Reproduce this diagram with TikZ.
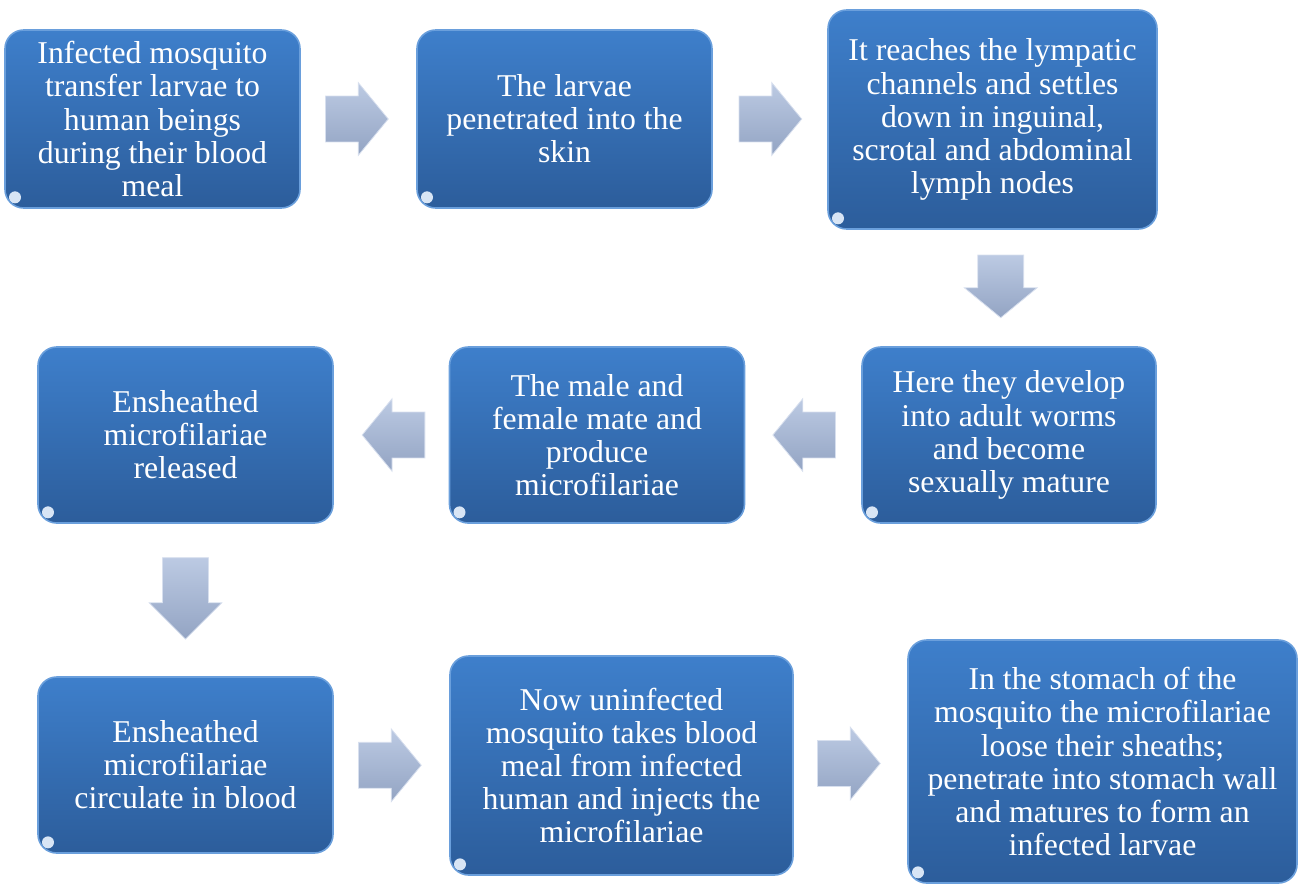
\documentclass[tikz,border=0pt]{standalone}
\usepackage{fontspec}
\setmainfont{Liberation Serif}
\usetikzlibrary{shapes.arrows,calc}
\definecolor{boxtop}{HTML}{3E7FCB}
\definecolor{boxbottom}{HTML}{2C5D9B}
\definecolor{boxrim}{HTML}{6A9FDC}
\definecolor{arrtop}{HTML}{BCCAE3}
\definecolor{arrbottom}{HTML}{93A4C3}
\begin{document}
\begin{tikzpicture}[
    x = 0.75pt, y = -0.75pt,
    stage/.style = {draw=boxrim, line width=1.2pt, rounded corners=14pt,
      top color=boxtop, bottom color=boxbottom, text=white, align=center,
      font=\fontsize{23.8}{24.8}\selectfont, inner sep=0pt,
      minimum width=221.25pt, minimum height=133.5pt,
      path picture={\fill[white!80!boxtop]
        ([shift={(7.5pt,8pt)}]path picture bounding box.south west) circle (4.5pt);}},
    flow/.style = {single arrow, draw=arrtop!60!white, line width=0.6pt,
      top color=arrtop, bottom color=arrbottom, anchor=tail,
      minimum height=47pt, single arrow head extend=10pt, single arrow tip angle=101},
    flowH/.style = {flow, inner xsep=0pt, inner ysep=16.9pt, shape border rotate=#1},
    flowV/.style = {flow, inner xsep=16.9pt, inner ysep=0pt, shape border rotate=270},
  ]
  \useasboundingbox (0,0) rectangle (1301,883);

  % top row
  \node[stage] (infect) at (152.5,119) {Infected mosquito\\transfer larvae to\\human beings\\during their blood\\meal};
  \node[stage] (skin) at (564.5,119) {The larvae\\penetrated into the\\skin};
  \node[stage, minimum width=246.75pt, minimum height=164.25pt] (lymph) at (992.5,119.5)
    {It reaches the lympatic\\channels and settles\\down in inguinal,\\scrotal and abdominal\\lymph nodes};

  % middle row
  \node[stage, minimum width=220.5pt, minimum height=132pt] (adult) at (1009,435)
    {Here they develop\\into adult worms\\and become\\sexually mature};
  \node[stage, minimum height=132pt] (mate) at (597,435) {The male and\\female mate and\\produce\\microfilariae};
  \node[stage, minimum height=132pt] (release) at (185.5,435) {Ensheathed\\microfilariae\\released};

  % bottom row
  \node[stage, minimum height=132pt] (blood) at (185.5,765) {Ensheathed\\microfilariae\\circulate in blood};
  \node[stage, minimum width=257.25pt, minimum height=164.25pt] (uninf) at (621.5,765.5)
    {Now uninfected\\mosquito takes blood\\meal from infected\\human and injects the\\microfilariae};
  \node[stage, minimum width=291.75pt, minimum height=182.25pt] (stomach) at (1102.5,761.5)
    {In the stomach of the\\mosquito the microfilariae\\loose their sheaths;\\penetrate into stomach wall\\and matures to form an\\infected larvae};

  % block arrows, placed by their tail
  \node[flowH=0] (a1) at ($(infect.east)!0.5!(skin.west) + (-25pt,0)$) {};
  \node[flowH=0] (a2) at ($(skin.east)!0.5!(lymph.west |- skin.east) + (-23.5pt,0)$) {};
  \node[flowV] (a3) at ($(lymph.south)!0.5!(adult.north) + (0,25pt)$) {};
  \node[flowH=180] (a4) at ($(adult.west)!0.5!(mate.east) + (24.5pt,0)$) {};
  \node[flowH=180] (a5) at ($(mate.west)!0.5!(release.east) + (25.5pt,0)$) {};
  \node[flowV, minimum height=61pt, single arrow tip angle=90] (a6)
    at ($(release.south)!0.5!(blood.north) + (0,32pt)$) {};
  \node[flowH=0] (a7) at ($(blood.east)!0.5!(uninf.west) + (-25pt,0)$) {};
  \node[flowH=0] (a8) at ($(uninf.east)!0.5!(stomach.west) + (-25pt,0)$) {};
\end{tikzpicture}
\end{document}
